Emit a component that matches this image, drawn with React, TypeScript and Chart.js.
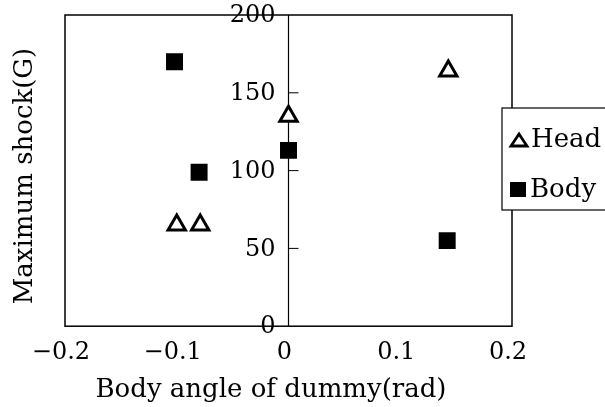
import React, { useEffect, useRef } from 'react';
import { Chart, registerables } from 'chart.js';
Chart.register(...registerables);

const FONT = '"DejaVu Serif", serif';

const xTicks = [-0.2, -0.1, 0, 0.1, 0.2];
const yTicks = [0, 50, 100, 150, 200];
const headX = [-0.1, -0.079, 0, 0.143];
const headY = [65, 65, 135, 164];
const bodyX = [-0.102, -0.08, 0, 0.142];
const bodyY = [170, 99, 113, 55];
const seriesNames = ['Head', 'Body'];
const xTitle = 'Body angle of dummy(rad)';
const yTitle = 'Maximum shock(G)';

const fmtX = (v: number) => {
  const r = Math.round(v * 10) / 10;
  if (r === 0) return '0';
  return (r < 0 ? '\u2212' : '') + Math.abs(r).toFixed(1);
};

const decorPlugin = {
  id: 'decor',
  beforeDatasetsDraw(chart: any) {
    const { ctx, chartArea: a, scales } = chart;
    const xs = scales.x;
    const ys = scales.y;
    ctx.save();
    // frame
    ctx.strokeStyle = '#000';
    ctx.lineWidth = 1.5;
    ctx.strokeRect(a.left, a.top, a.right - a.left, a.bottom - a.top);
    // center y axis line
    const x0 = xs.getPixelForValue(0);
    ctx.lineWidth = 1.2;
    ctx.beginPath();
    ctx.moveTo(x0, a.top);
    ctx.lineTo(x0, a.bottom);
    ctx.stroke();
    // tick marks pointing right
    ctx.lineWidth = 1;
    yTicks.forEach((t) => {
      if (t === 0 || t === 200) return;
      const py = ys.getPixelForValue(t);
      ctx.beginPath();
      ctx.moveTo(x0, py);
      ctx.lineTo(x0 + 10, py);
      ctx.stroke();
    });
    // tick labels left of the center axis
    ctx.fillStyle = '#000';
    ctx.font = `24px ${FONT}`;
    ctx.textAlign = 'right';
    ctx.textBaseline = 'middle';
    yTicks.forEach((t) => {
      const py = ys.getPixelForValue(t);
      ctx.fillText(String(t), x0 - 13, py + 1);
    });
    // x title
    ctx.font = `26px ${FONT}`;
    ctx.textAlign = 'center';
    ctx.textBaseline = 'middle';
    ctx.fillText(xTitle, 271, 390);
    // y title
    ctx.textBaseline = 'alphabetic';
    ctx.translate(32, 176);
    ctx.rotate(-Math.PI / 2);
    ctx.fillText(yTitle, 0, 0);
    ctx.restore();
  },
  afterDraw(chart: any) {
    const { ctx } = chart;
    // legend
    ctx.save();
    const lx = 502, ly = 108, lw = 120, lh = 102;
    ctx.fillStyle = '#fff';
    ctx.fillRect(lx, ly, lw, lh);
    ctx.strokeStyle = '#000';
    ctx.lineWidth = 1.2;
    ctx.strokeRect(lx, ly, lw, lh);
    ctx.beginPath();
    ctx.moveTo(519, 134);
    ctx.lineTo(527, 146);
    ctx.lineTo(511, 146);
    ctx.closePath();
    ctx.lineWidth = 2.8;
    ctx.stroke();
    ctx.fillStyle = '#000';
    ctx.fillRect(510, 182, 16, 15);
    ctx.font = `26px ${FONT}`;
    ctx.textAlign = 'left';
    ctx.textBaseline = 'alphabetic';
    ctx.fillText(seriesNames[0], 531, 147);
    ctx.fillText(seriesNames[1], 530, 197);
    ctx.restore();
  },
};

export default function App() {
  const ref = useRef<HTMLCanvasElement>(null);
  useEffect(() => {
    const chart = new Chart(ref.current!, {
      type: 'scatter',
      data: {
        datasets: [
          {
            label: seriesNames[0],
            data: headX.map((x, i) => ({ x, y: headY[i] })),
            pointStyle: 'triangle',
            pointRadius: 10,
            backgroundColor: '#fff',
            borderColor: '#000',
            borderWidth: 3,
          },
          {
            label: seriesNames[1],
            data: bodyX.map((x, i) => ({ x, y: bodyY[i] })),
            pointStyle: 'rect',
            pointRadius: 12,
            backgroundColor: '#000',
            borderColor: '#000',
            borderWidth: 0,
          },
        ],
      },
      options: {
        responsive: false,
        animation: false,
        layout: { padding: { left: 65, right: 93, top: 15, bottom: 28 } },
        plugins: { legend: { display: false }, tooltip: { enabled: false } },
        scales: {
          x: {
            type: 'linear',
            min: -0.2,
            max: 0.2,
            position: 'bottom',
            afterBuildTicks: (s: any) => {
              s.ticks = xTicks.map((v) => ({ value: v }));
            },
            ticks: {
              callback: (v: any) => fmtX(Number(v)),
              font: { family: FONT, size: 24 },
              color: '#000',
              padding: 12,
              maxRotation: 0,
              labelOffset: -4,
            },
            grid: { display: false, drawTicks: false },
            border: { display: false },
          },
          y: {
            type: 'linear',
            min: 0,
            max: 200,
            display: false,
            afterBuildTicks: (s: any) => {
              s.ticks = yTicks.map((v) => ({ value: v }));
            },
          },
        },
      },
      plugins: [decorPlugin],
    });
    return () => chart.destroy();
  }, []);
  return (
    <canvas
      ref={ref}
      width={605}
      height={407}
      style={{ position: 'fixed', left: 0, top: 0, width: 605, height: 407 }}
    />
  );
}
